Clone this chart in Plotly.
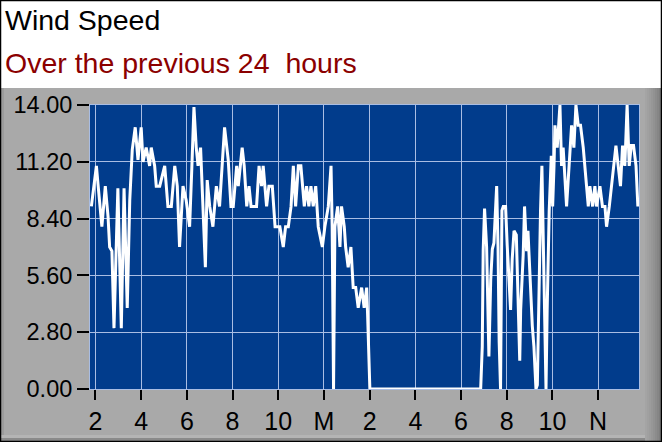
import plotly.graph_objects as go

# ---- data (hours since midnight of first day; 24 = midnight "M", 36 = noon "N") ----
hours = [
    13.82, 14.04, 14.11, 14.28, 14.43, 14.55, 14.62, 14.72, 14.81, 14.98, 15.13, 15.25, 15.39, 15.50,
    15.61, 15.74, 15.86, 15.93, 16.00, 16.08, 16.22, 16.37, 16.44, 16.59, 16.66, 16.81, 17.03, 17.17,
    17.32, 17.47, 17.58, 17.68, 17.83, 17.97, 18.12, 18.22, 18.31, 18.41, 18.49, 18.60, 18.70, 18.81,
    18.89, 19.00, 19.14, 19.29, 19.43, 19.58, 19.65,
    19.81, 19.93, 20.03, 20.18, 20.25, 20.42, 20.51, 20.62, 20.72, 20.81, 21.05, 21.16, 21.27, 21.34,
    21.49, 21.59, 21.74, 21.86, 22.07, 22.22, 22.32, 22.44, 22.56, 22.66, 22.76, 22.88, 22.99, 23.14,
    23.24, 23.34, 23.43, 23.53, 23.64, 23.75, 23.93, 24.04, 24.19, 24.31, 24.36, 24.42, 24.48, 24.60,
    24.70, 24.77, 24.89, 24.95, 25.06, 25.18, 25.28, 25.39, 25.50, 25.65, 25.76, 25.87, 25.91, 25.97,
    26.01,
    30.86, 30.93, 30.97, 31.03, 31.12, 31.22, 31.30, 31.37, 31.44, 31.56, 31.62, 31.67, 31.73, 31.79,
    31.85, 31.95, 32.02, 32.10, 32.17, 32.24, 32.32, 32.42, 32.49, 32.57, 32.61, 32.72, 32.78, 32.87,
    32.93, 33.02, 33.12, 33.19, 33.28, 33.34, 33.42, 33.48, 33.54, 33.60, 33.66, 33.72, 33.77, 33.86,
    33.95, 34.01, 34.07,
    34.11, 34.21, 34.33, 34.40, 34.47, 34.62, 34.74, 34.84, 34.94, 35.03, 35.13, 35.23, 35.35, 35.42,
    35.50, 35.57, 35.64, 35.76, 35.86, 35.93, 36.08, 36.19, 36.30, 36.37, 36.49, 36.59, 36.69, 36.78,
    36.88, 36.98, 37.07, 37.17, 37.27, 37.36, 37.45, 37.55, 37.66, 37.74,
]
speed = [
    9.0, 11.0, 10.1, 8.0, 10.0, 8.5, 7.0, 6.8, 3.0, 9.9, 3.0, 9.9, 4.0, 9.3,
    11.8, 12.9, 11.3, 12.0, 12.9, 11.2, 11.9, 11.0, 11.9, 11.0, 10.0, 10.0, 11.0, 9.0,
    9.0, 11.0, 10.0, 7.0, 10.0, 9.3, 8.0, 11.0, 13.9, 11.9, 11.0, 11.9, 9.0, 6.0,
    10.3, 9.0, 8.0, 10.0, 9.0, 11.9, 12.9,
    11.3, 9.0, 9.0, 11.0, 10.0, 11.9, 11.0, 9.0, 10.0, 9.0, 9.0, 11.0, 10.0, 11.0,
    9.0, 10.0, 10.0, 8.0, 8.0, 7.0, 8.0, 8.0, 9.0, 11.0, 9.0, 11.0, 11.0, 9.0,
    10.0, 9.0, 10.0, 9.0, 10.0, 8.0, 7.0, 8.0, 9.0, 11.0, 8.0, 0.0, 8.0, 9.0,
    7.0, 9.0, 8.0, 7.0, 6.0, 7.0, 5.0, 5.0, 4.0, 5.0, 4.0, 5.0, 3.7, 1.3,
    0.0,
    0.0, 2.1, 6.85, 8.9, 7.0, 1.6, 5.4, 6.9, 7.2, 10.0, 7.0, 2.3, 0.0, 8.8,
    9.0, 9.0, 7.1, 5.6, 3.9, 6.4, 7.8, 7.6, 4.6, 1.4, 3.9, 6.6, 9.0, 6.8,
    7.8, 5.5, 3.1, 2.1, 0.0, 0.2, 5.6, 8.8, 11.0, 6.9, 4.3, 0.0, 3.9, 8.8,
    11.5, 9.0, 11.0,
    13.0, 11.9, 14.0, 11.0, 11.9, 9.0, 11.0, 13.0, 11.9, 14.0, 13.0, 13.0, 11.9, 11.0,
    10.0, 9.0, 10.0, 9.0, 10.0, 9.0, 10.0, 9.0, 9.0, 8.0, 9.0, 10.0, 11.0, 12.0,
    11.0, 10.0, 12.0, 11.0, 14.0, 11.0, 12.0, 12.0, 11.0, 9.0,
]

x_tickvals = [14, 16, 18, 20, 22, 24, 26, 28, 30, 32, 34, 36]
x_ticktext = ["2", "4", "6", "8", "10", "M", "2", "4", "6", "8", "10", "N"]
y_tickvals = [0.0, 2.8, 5.6, 8.4, 11.2, 14.0]
y_ticktext = ["0.00", "2.80", "5.60", "8.40", "11.20", "14.00"]

title_text = "Wind Speed"
subtitle_text = "Over the previous 24\u00a0 hours"

# ---- figure geometry (pixels) ----
W, H = 662, 442
L, R, T, B = 90, 23, 105, 53
pw, ph = W - L - R, H - T - B


def px_x(p):
    return (p - L) / pw


def px_y(p):
    return (H - B - p) / ph


FONT = "Liberation Sans, Arial, sans-serif"

fig = go.Figure()
fig.add_trace(go.Scatter(
    x=hours, y=speed, mode="lines",
    line=dict(color="white", width=3),
    hoverinfo="skip", showlegend=False,
))

shapes = [
    # white header
    dict(type="rect", xref="paper", yref="paper", x0=px_x(0), x1=px_x(W), y0=px_y(88), y1=px_y(0),
         fillcolor="white", line=dict(width=0), layer="below"),
    # left bevel
    dict(type="rect", xref="paper", yref="paper", x0=px_x(1), x1=px_x(4), y0=px_y(H), y1=px_y(88),
         fillcolor="#9c9c9c", line=dict(width=0), layer="below"),
    # bottom bevel
    dict(type="rect", xref="paper", yref="paper", x0=px_x(0), x1=px_x(W), y0=px_y(438), y1=px_y(435),
         fillcolor="#b4b4b4", line=dict(width=0), layer="below"),
    dict(type="rect", xref="paper", yref="paper", x0=px_x(0), x1=px_x(W), y0=px_y(H), y1=px_y(438),
         fillcolor="#8a8a8a", line=dict(width=0), layer="below"),
]
# right bevel gradient
right_cols = ["#a4a4a4", "#a0a0a0", "#9c9c9c", "#979797", "#929292", "#8c8c8c", "#868686", "#7e7e7e"]
for i, c in enumerate(right_cols):
    shapes.append(dict(type="rect", xref="paper", yref="paper",
                       x0=px_x(645 + i * 2), x1=px_x(647 + i * 2), y0=px_y(H), y1=px_y(88),
                       fillcolor=c, line=dict(width=0), layer="below"))
# outer black border
shapes.append(dict(type="rect", xref="paper", yref="paper", x0=px_x(0.5), x1=px_x(W - 0.5),
                   y0=px_y(H - 0.5), y1=px_y(0.5), line=dict(color="black", width=1.5),
                   fillcolor="rgba(0,0,0,0)", layer="above"))

fig.update_layout(
    width=W, height=H,
    margin=dict(l=L, r=R, t=T, b=B, pad=0, autoexpand=False),
    paper_bgcolor="#a9a9a9",
    plot_bgcolor="#013c8c",
    font=dict(family=FONT, size=22, color="black"),
    shapes=shapes,
    annotations=[
        dict(text=title_text, xref="paper", yref="paper", x=px_x(3), y=px_y(20),
             xanchor="left", yanchor="middle", showarrow=False,
             font=dict(family=FONT, size=28.5, color="black")),
        dict(text=subtitle_text, xref="paper", yref="paper", x=px_x(3), y=px_y(63),
             xanchor="left", yanchor="middle", showarrow=False,
             font=dict(family=FONT, size=28.5, color="#8b0000")),
    ],
    xaxis=dict(
        range=[13.76, 37.79], tickmode="array", tickvals=x_tickvals, ticktext=x_ticktext,
        ticks="outside", ticklen=10, tickwidth=1.5, tickcolor="black",
        showgrid=True, gridcolor="#a9bde3", gridwidth=1,
        showline=True, linecolor="#a9bde3", linewidth=1, mirror=True,
        zeroline=False, fixedrange=True, automargin=False,
        tickfont=dict(family=FONT, size=25, color="black"),
    ),
    yaxis=dict(
        range=[0, 14], tickmode="array", tickvals=y_tickvals, ticktext=y_ticktext,
        ticks="outside", ticklen=12, tickwidth=1.5, tickcolor="black",
        showgrid=True, gridcolor="#a9bde3", gridwidth=1,
        showline=True, linecolor="#a9bde3", linewidth=1, mirror=True,
        zeroline=False, fixedrange=True, automargin=False,
        tickfont=dict(family=FONT, size=23.5, color="black"),
    ),
)

fig.write_html(
    "out.html",
    config={"displayModeBar": False},
    post_script="document.body.style.margin='0';document.body.style.padding='0';",
)
